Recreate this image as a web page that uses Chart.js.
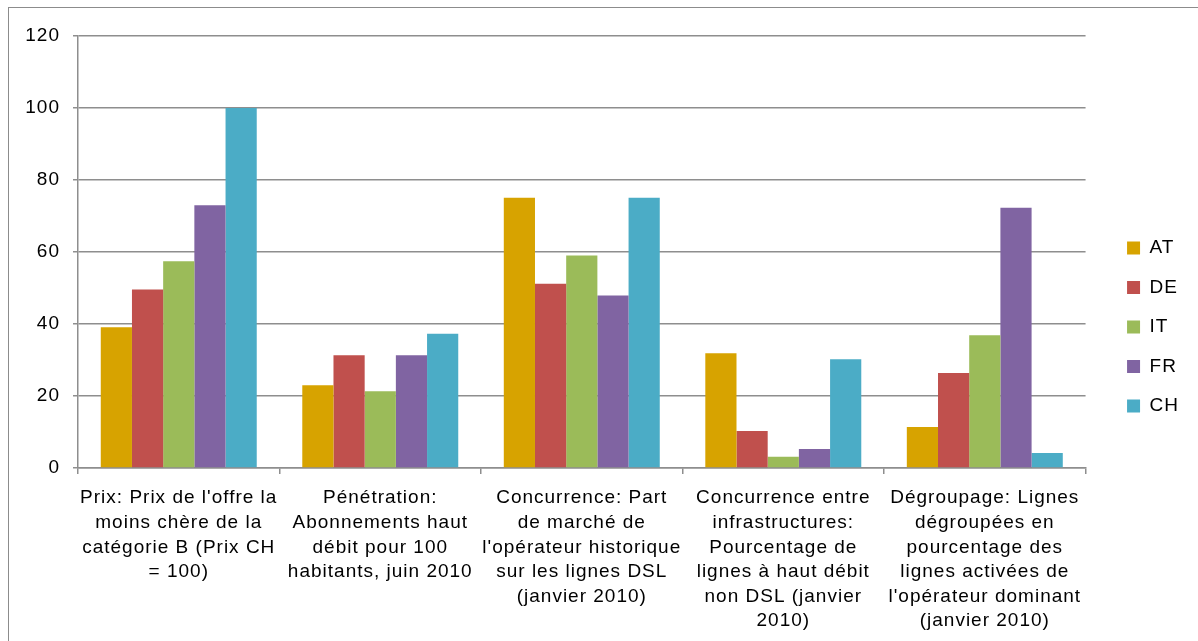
<!DOCTYPE html>
<html>
<head>
<meta charset="utf-8">
<script src="https://cdn.jsdelivr.net/npm/chart.js@4.4.1/dist/chart.umd.min.js"></script>
<style>
  html, body { margin: 0; padding: 0; background: #fff; overflow: hidden; }
  #wrap { position: relative; width: 1198px; height: 641px; }
  #frame { position: absolute; left: 8px; top: 7px; width: 1300px; height: 1000px;
           border: 1.5px solid #8c8c8c; pointer-events: none; }
</style>
</head>
<body>
<div id="wrap">
  <canvas id="c" width="1198" height="641"></canvas>
  <div id="frame"></div>
</div>
<script>
const categories = [
  ["Prix: Prix de l'offre la", "moins chère de la", "catégorie B (Prix CH", "= 100)"],
  ["Pénétration:", "Abonnements haut", "débit pour 100", "habitants, juin 2010"],
  ["Concurrence: Part", "de marché de", "l'opérateur historique", "sur les lignes DSL", "(janvier 2010)"],
  ["Concurrence entre", "infrastructures:", "Pourcentage de", "lignes à haut débit", "non DSL (janvier", "2010)"],
  ["Dégroupage: Lignes", "dégroupées en", "pourcentage des", "lignes activées de", "l'opérateur dominant", "(janvier 2010)"]
];
const seriesNames = ["AT", "DE", "IT", "FR", "CH"];
const AT = [39.1, 23.0, 75.1, 31.9, 11.4];
const DE = [49.6, 31.3, 51.2, 10.3, 26.4];
const IT = [57.4, 21.3, 59.0, 3.1, 36.9];
const FR = [73.0, 31.3, 47.9, 5.3, 72.3];
const CH = [100.0, 37.3, 75.1, 30.2, 4.2];
const seriesColors = ["#D7A300", "#C0504D", "#9BBB59", "#8064A2", "#4BACC6"];
const yTicks = [0, 20, 40, 60, 80, 100, 120];

const seriesValues = [AT, DE, IT, FR, CH];
const FONT = "'Liberation Sans', Arial, sans-serif";
const GRID = "#8e8e8e";

const spacing = {
  id: "spacing",
  beforeDraw(chart) { chart.ctx.letterSpacing = "1px"; }
};

new Chart(document.getElementById("c"), {
  type: "bar",
  data: {
    labels: categories,
    datasets: seriesNames.map((n, i) => ({
      label: n,
      data: seriesValues[i],
      backgroundColor: seriesColors[i],
      borderWidth: 0,
      categoryPercentage: 0.774,
      barPercentage: 1.0
    }))
  },
  plugins: [spacing],
  options: {
    responsive: false,
    animation: false,
    devicePixelRatio: 1,
    layout: { padding: { top: 13, bottom: 0, left: 0, right: 11 } },
    plugins: {
      tooltip: { enabled: false },
      legend: {
        position: "right",
        align: "center",
        labels: {
          boxWidth: 13, boxHeight: 13, padding: 20.5,
          color: "#000",
          font: { family: FONT, size: 19 }
        }
      }
    },
    scales: {
      x: {
        grid: { drawOnChartArea: false, offset: true, color: GRID, lineWidth: 1.5, tickLength: 6 },
        border: { color: GRID, width: 1.5 },
        ticks: { color: "#000", font: { family: FONT, size: 19, lineHeight: 1.29 }, padding: 12,
                 maxRotation: 0, autoSkip: false },
        afterFit: (s) => { s.height = 173; }
      },
      topSpacer: {
        type: "linear", axis: "x", position: "top", display: true,
        grid: { display: false }, border: { display: false },
        ticks: { display: false },
        afterFit: (s) => { s.height = 23; }
      },
      y: {
        min: 0, max: 120,
        afterBuildTicks: (s) => { s.ticks = yTicks.map(v => ({ value: v })); },
        grid: { color: GRID, lineWidth: 1.5, tickLength: 5 },
        border: { color: GRID, width: 1.5 },
        ticks: { color: "#000", font: { family: FONT, size: 19 }, padding: 13 },
        afterFit: (s) => { s.width = 78; }
      },
      spacer: {
        type: "linear", position: "right", display: true,
        grid: { display: false }, border: { display: false },
        ticks: { display: false },
        afterFit: (s) => { s.width = 21; }
      }
    }
  }
});
</script>
</body>
</html>
